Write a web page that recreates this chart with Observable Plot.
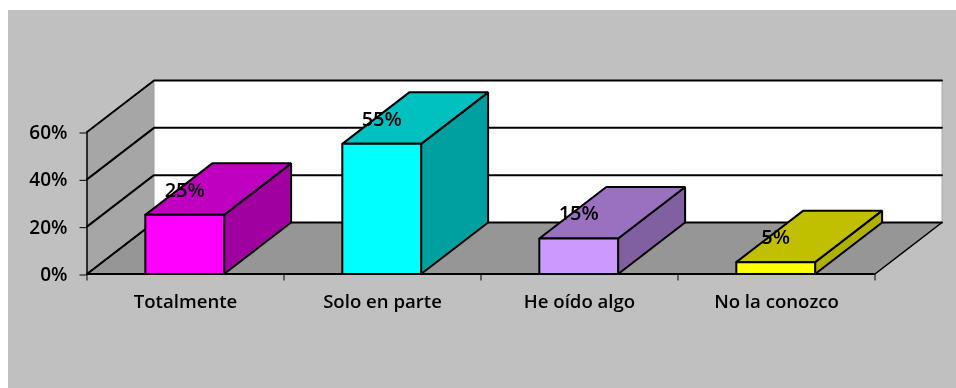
<!DOCTYPE html>
<html><head><meta charset="utf-8">
<script src="https://cdn.jsdelivr.net/npm/d3@7"></script>
<script src="https://cdn.jsdelivr.net/npm/@observablehq/plot@0.6"></script>
<style>
html,body{margin:0;padding:0;background:#fff;width:956px;height:388px;overflow:hidden}
#panel{position:absolute;left:8px;top:10px;width:948px;height:378px;background:#c0c0c0}
#chart{position:absolute;left:0;top:0}
#chart svg{background:transparent;display:block;filter:blur(0.45px)}
</style></head><body><div id="panel"></div><div id="chart"></div>
<script>
const categories = ["Totalmente","Solo en parte","He oído algo","No la conozco"];
const values = [25,55,15,5];
const frontColors = ["#ff00ff","#00ffff","#cc99ff","#ffff00"];
const topColors = ["#c000c0","#00c0c0","#9a70c0","#c0c000"];
const sideColors = ["#a000a0","#00a0a0","#8060a0","#b0b000"];
const yTicks = [0,20,40,60];
const yMax = 60;
const depthX = 67/197;   // oblique depth, in category units
const depthY = 51.5*60/142; // oblique depth, in value units
const barStart = 0.296, barWidth = 0.4;
const back = ([x,y]) => [x+depthX, y+depthY];
const poly = (id,fill,pts) => pts.map(([x,y]) => ({id,fill,x,y}));
const n = categories.length;

const walls = [
  ...poly("side","#a6a6a6",[[0,0],back([0,0]),back([0,yMax]),[0,yMax]]),
  ...poly("backw","#ffffff",[back([0,0]),back([n,0]),back([n,yMax]),back([0,yMax])]),
  ...poly("floor","#969696",[[0,0],[n,0],back([n,0]),back([0,0])])
];
const bars = values.flatMap((v,i)=>{
  const a=i+barStart,b=a+barWidth;
  return [
    ...poly("s"+i,sideColors[i],[[b,0],back([b,0]),back([b,v]),[b,v],[b,0]]),
    ...poly("t"+i,topColors[i],[[a,v],[b,v],back([b,v]),back([a,v]),[a,v]]),
    ...poly("f"+i,frontColors[i],[[a,0],[b,0],[b,v],[a,v],[a,0]])
  ];
});
const grid = yTicks.flatMap(t=>[
  {id:"g"+t,x:0,y:t},{id:"g"+t,x:depthX,y:t+depthY},{id:"g"+t,x:n+depthX,y:t+depthY}
]);
const font = "'Open Sans',sans-serif";
const plot = Plot.plot({
  width:956,height:388,
  marginLeft:86.5,marginRight:81.5,marginTop:131.5,marginBottom:114.5,
  style:{background:"transparent",fontFamily:font,overflow:"visible"},
  x:{type:"linear",domain:[0,n]},
  y:{type:"linear",domain:[0,yMax]},
  color:{type:"identity"},
  marks:[
    Plot.line(walls,{x:"x",y:"y",z:"id",fill:"fill",stroke:null,curve:"linear-closed",clip:false}),
    Plot.line([{x:depthX,y:depthY},{x:depthX,y:yMax+depthY}],{x:"x",y:"y",stroke:"#999",strokeWidth:1}),
    Plot.line([{x:n+depthX,y:depthY},{x:n+depthX,y:yMax+depthY}],{x:"x",y:"y",stroke:"#aaa",strokeWidth:1}),
    Plot.line(grid,{x:"x",y:"y",z:"id",stroke:"#000",strokeWidth:2}),
    Plot.line([{x:0,y:0},{x:depthX,y:depthY}],{x:"x",y:"y",stroke:"#000",strokeWidth:1.5}),
    Plot.line([{x:n,y:0},{x:n+depthX,y:depthY}],{x:"x",y:"y",stroke:"#000",strokeWidth:1.5}),
    Plot.line(bars,{x:"x",y:"y",z:"id",fill:"fill",stroke:"#000",strokeWidth:2,strokeLinejoin:"miter"}),
    Plot.ruleX([0],{y1:0,y2:yMax,stroke:"#000",strokeWidth:1.5}),
    Plot.ruleY([0],{x1:0,x2:n,stroke:"#000",strokeWidth:2}),
    Plot.axisY({ticks:yTicks,tickFormat:d=>d+"%",anchor:"left",tickSize:7,tickPadding:12.5,dy:1,label:null,fontSize:19,fontWeight:600,stroke:"#000",color:"#000"}),
    Plot.axisX({ticks:d3.range(n+1),tickFormat:()=>"",anchor:"bottom",tickSize:7,label:null,stroke:"#000"}),
    Plot.text(categories,{x:(d,i)=>i+0.5,y:()=>0,dy:28,text:d=>d,fontSize:18.6,fontWeight:600,fill:"#000"}),
    Plot.text(values,{x:(d,i)=>i+barStart+barWidth/2,y:d=>d,dy:-24.5,text:d=>d+"%",fontSize:20,fontWeight:600,fill:"#000"})
  ]
});
document.getElementById("chart").append(plot);
</script></body></html>
